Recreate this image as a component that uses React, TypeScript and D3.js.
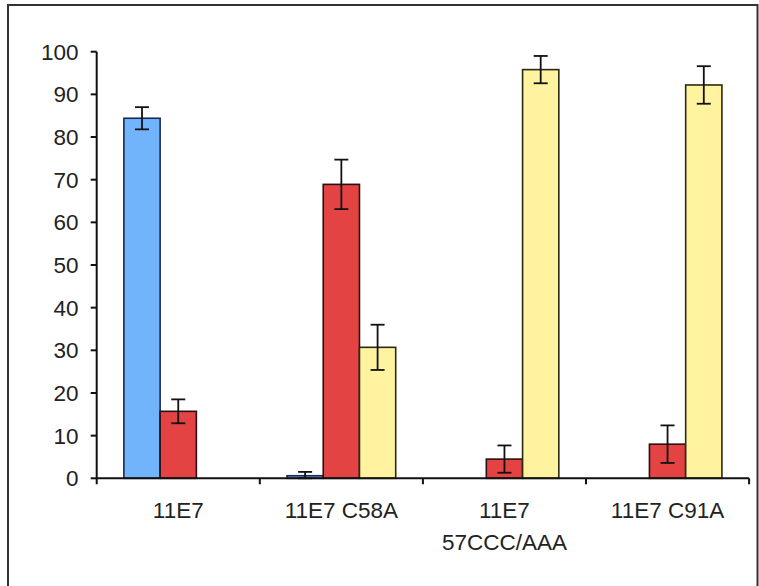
import React from "react";
import * as d3 from "d3";

const categories = ["11E7", "11E7 C58A", "11E7\n57CCC/AAA", "11E7 C91A"];
const seriesNames = ["A", "B", "C"];
const blueValues = [84.4, 0.6, 0, 0];
const blueErrors = [2.6, 0.9, 0, 0];
const redValues = [15.7, 68.9, 4.5, 8.0];
const redErrors = [2.8, 5.8, 3.2, 4.4];
const yellowValues = [0, 30.7, 95.8, 92.2];
const yellowErrors = [0, 5.3, 3.2, 4.4];
const yTicks = [0, 10, 20, 30, 40, 50, 60, 70, 80, 90, 100];

const fills = ["#72b4fb", "#e34343", "#fff39f"];
const strokes = ["#1d2850", "#2a1010", "#2a2a10"];

export default function App() {
  const W = 759, H = 586;
  const x0 = 96.7, x1 = 749.1, yTop = 51.7, yBot = 478.3;
  const x = d3.scaleBand<string>().domain(categories).range([x0, x1]).padding(0);
  const y = d3.scaleLinear().domain([0, 100]).range([yBot, yTop]);
  const bw = x.bandwidth() / 4.5;
  const inner = d3.scaleBand<string>().domain(seriesNames).range([0, 3 * bw]).padding(0);
  const offset = (x.bandwidth() - 3 * bw) / 2;
  const values = [blueValues, redValues, yellowValues];
  const errors = [blueErrors, redErrors, yellowErrors];
  const font = "'Liberation Sans', Arial, sans-serif";
  const cap = 7;

  return (
    <svg width={W} height={H} style={{ position: "absolute", left: 0, top: 0 }}>
      <rect x={0} y={0} width={W} height={H} fill="#fff" />
      <rect x={8} y={5} width={749.5} height={700} fill="none" stroke="#333" strokeWidth={2} />
      {values.map((vals, si) =>
        vals.map((v, ci) => {
          if (v <= 0) return null;
          const bx = (x(categories[ci]) as number) + offset + (inner(seriesNames[si]) as number);
          return (
            <rect key={`b${si}-${ci}`} x={bx} y={y(v)} width={bw} height={yBot - y(v)}
              fill={fills[si]} stroke={strokes[si]} strokeWidth={1.6} />
          );
        })
      )}
      {values.map((vals, si) =>
        vals.map((v, ci) => {
          const e = errors[si][ci];
          if (v <= 0 || e <= 0) return null;
          const cx = (x(categories[ci]) as number) + offset + (inner(seriesNames[si]) as number) + bw / 2;
          const lo = Math.max(0, v - e), hi = v + e;
          return (
            <g key={`e${si}-${ci}`} stroke="#111" strokeWidth={1.8}>
              <line x1={cx} x2={cx} y1={y(lo)} y2={y(hi)} />
              <line x1={cx - cap} x2={cx + cap} y1={y(hi)} y2={y(hi)} />
              <line x1={cx - cap} x2={cx + cap} y1={y(lo)} y2={y(lo)} />
            </g>
          );
        })
      )}
      {/* y axis */}
      <line x1={x0} x2={x0} y1={yTop} y2={yBot} stroke="#111" strokeWidth={2} />
      {yTicks.map((t) => (
        <g key={`yt${t}`}>
          <line x1={x0 - 6} x2={x0} y1={y(t)} y2={y(t)} stroke="#111" strokeWidth={2} />
          <text x={78.5} y={y(t)} dy="0.36em" textAnchor="end" fontFamily={font} fontSize={22.5} fill="#222">{t}</text>
        </g>
      ))}
      {/* x axis */}
      <line x1={x0} x2={x1} y1={yBot} y2={yBot} stroke="#111" strokeWidth={2} />
      {[...categories.map((c) => x(c) as number), x1].map((tx, i) => (
        <line key={`xt${i}`} x1={tx} x2={tx} y1={yBot} y2={yBot + 6} stroke="#111" strokeWidth={2} />
      ))}
      {categories.map((c) => {
        const lines = c.split("\n");
        const cx = (x(c) as number) + x.bandwidth() / 2;
        return (
          <text key={`xl${c}`} x={cx} y={518} textAnchor="middle" fontFamily={font} fontSize={22.5} fill="#222">
            {lines.map((l, i) => (
              <tspan key={i} x={cx} dy={i === 0 ? 0 : 31.7}>{l}</tspan>
            ))}
          </text>
        );
      })}
    </svg>
  );
}
